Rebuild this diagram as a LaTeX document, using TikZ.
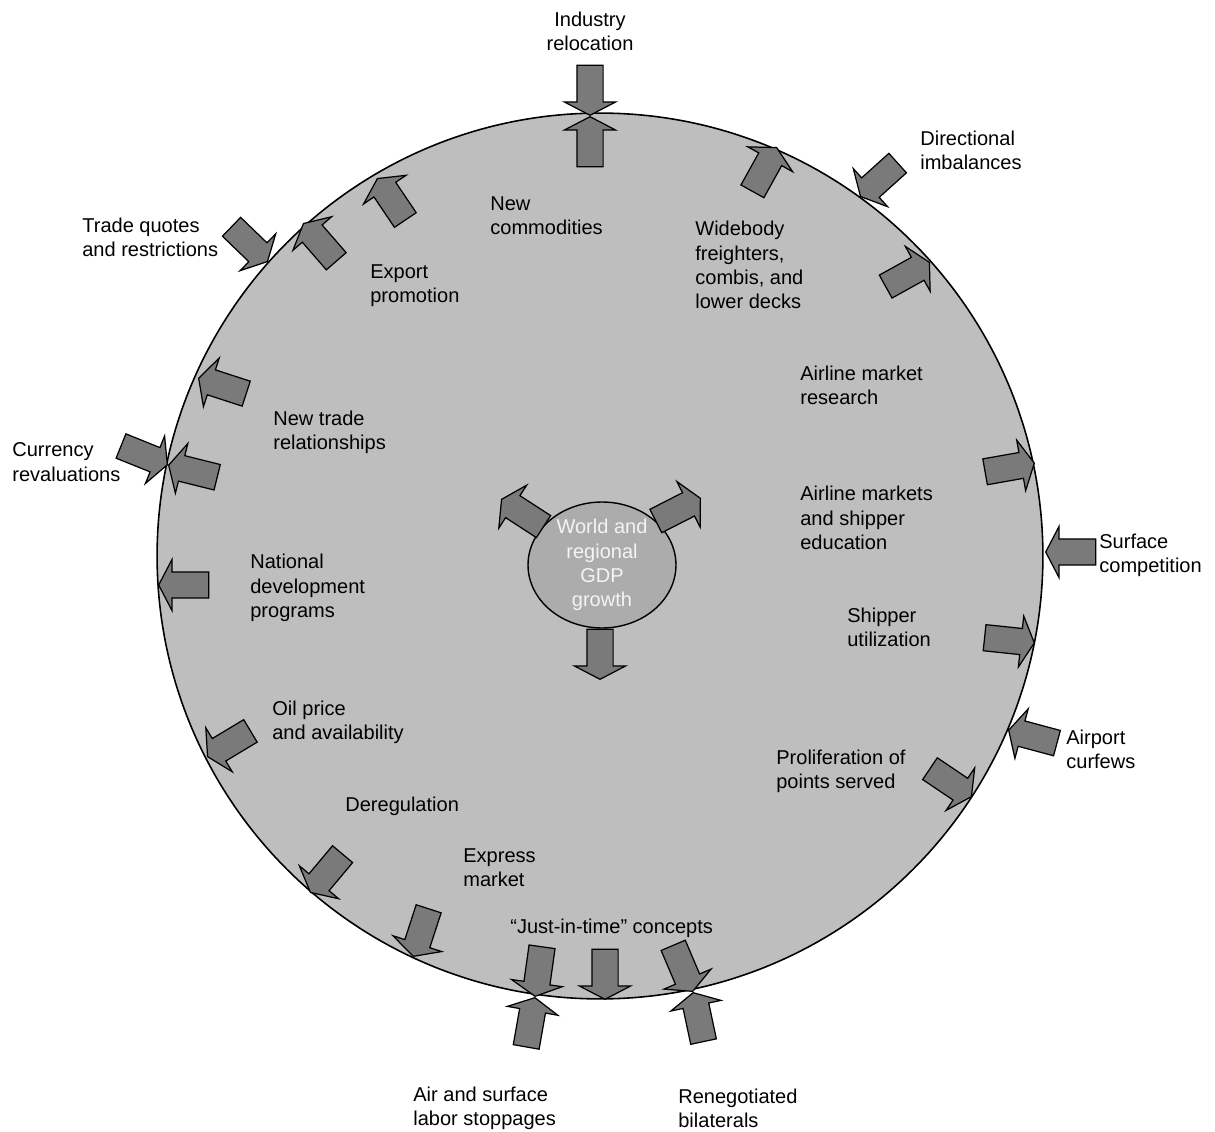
\documentclass[tikz,border=0pt]{standalone}
\usepackage{fontspec}
\setmainfont{Liberation Sans}
\usepackage{tikz}
\usetikzlibrary{shapes,arrows.meta,positioning}
\definecolor{discbg}{RGB}{190,190,190}
\definecolor{hubbg}{RGB}{172,172,172}
\definecolor{arrowfill}{RGB}{122,122,122}
\definecolor{hubtext}{RGB}{244,244,244}

\begin{document}
\begin{tikzpicture}[x=0.02cm, y=-0.02cm,
    lbl/.style={anchor=west, align=left, inner sep=0pt, font=\fontsize{11.4}{13.8}\selectfont},
    blk/.style={single arrow, draw=black, fill=arrowfill, line width=0.7pt, anchor=tip,
        minimum height=1cm, minimum width=1cm, inner xsep=0pt, inner ysep=0.25cm,
        single arrow head extend=0.25cm, single arrow tip angle=125}
]
\useasboundingbox (0,0) rectangle (1215,1132);

% disc and hub
\node[circle, draw, line width=0.9pt, fill=discbg, inner sep=0pt, minimum size=17.72cm] (disc) at (600,556) {};
\node[ellipse, draw, line width=0.8pt, fill=hubbg, inner sep=0pt, minimum width=2.96cm, minimum height=2.52cm] (hub) at (602,565) {};
\node[lbl, anchor=center, align=center, text=hubtext] (gdp) at (hub.center) {World and\\regional\\GDP\\growth};

% outer pressures
\node[blk, rotate=-90] (a1) at (590,116) {};
\node[blk, rotate=-138] (a4) at (860,197) {};
\node[blk, rotate=180] (a7) at (1045,552) {};
\node[blk, rotate=165] (a9) at (1008,730) {};
\node[blk, rotate=102] (a12) at (693,992) {};
\node[blk, rotate=80] (a15) at (535,997) {};
\node[blk, rotate=-22] (a21) at (168,465) {};
\node[blk, rotate=-44] (a23) at (268,262) {};

% inner drivers
\node[blk, rotate=90] (a2) at (590,116) {};
\node[blk, rotate=61] (a3) at (777,147) {};
\node[blk, rotate=29] (a5) at (930,262) {};
\node[blk, rotate=10] (a6) at (1035,463) {};
\node[blk, rotate=-6] (a8) at (1035,643) {};
\node[blk, rotate=-34] (a10) at (972,797) {};
\node[blk, rotate=-67] (a11) at (693,992) {};
\node[blk, rotate=-90] (a13) at (605,1000) {};
\node[blk, rotate=-98] (a14) at (535,997) {};
\node[blk, rotate=-108] (a16) at (413,957) {};
\node[blk, rotate=-130] (a17) at (310,893) {};
\node[blk, rotate=-149] (a18) at (207,757) {};
\node[blk, rotate=180] (a19) at (158,585) {};
\node[blk, rotate=166] (a20) at (168,465) {};
\node[blk, rotate=162] (a22) at (198,378) {};
\node[blk, rotate=131] (a24) at (303,223) {};
\node[blk, rotate=124] (a25) at (377,178) {};

% hub arrows
\node[blk, rotate=147] (b1) at (501,499) {};
\node[blk, rotate=27] (b2) at (701,498) {};
\node[blk, rotate=-90] (b3) at (600,680) {};

% outside labels
\node[lbl, anchor=center, align=center] (indus) at (590,31) {Industry\\relocation};
\node[lbl] (direc) at (920,150) {Directional\\imbalances};
\node[lbl] (trade) at (82,237) {Trade quotes\\and restrictions};
\node[lbl] (curr) at (12,462) {Currency\\revaluations};
\node[lbl] (surf) at (1099,555) {Surface\\competition};
\node[lbl] (airp) at (1066,749) {Airport\\curfews};
\node[lbl] (labor) at (413,1108) {Air and surface\\labor stoppages};
\node[lbl] (reneg) at (678,1108) {Renegotiated\\bilaterals};

% inside labels
\node[lbl] (newcom) at (490,216) {New\\commodities};
\node[lbl] (export) at (370,286) {Export\\promotion};
\node[lbl] (wide) at (695,265) {Widebody\\freighters,\\combis, and\\lower decks};
\node[lbl] (amr) at (800,385) {Airline market\\research};
\node[lbl] (ntr) at (273,432) {New trade\\relationships};
\node[lbl] (ams) at (800,518) {Airline markets\\and shipper\\education};
\node[lbl] (ndp) at (250,588) {National\\development\\programs};
\node[lbl] (ship) at (847,627) {Shipper\\utilization};
\node[lbl] (oil) at (272,722) {Oil price\\and availability};
\node[lbl] (prolif) at (776,771) {Proliferation of\\points served};
\node[lbl] (dereg) at (345,806) {Deregulation};
\node[lbl] (expr) at (463,868) {Express\\market};
\node[lbl] (jit) at (510,928) {``Just-in-time'' concepts};
\end{tikzpicture}
\end{document}
